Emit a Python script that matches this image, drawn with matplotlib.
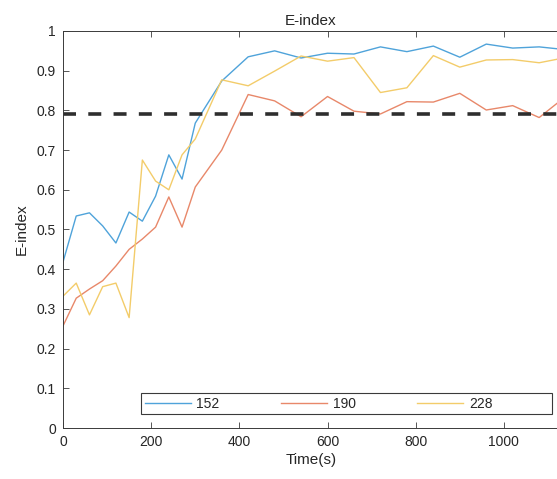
import matplotlib.pyplot as plt
from matplotlib.patches import Rectangle
import numpy as np

# data
time = [0, 30, 60, 90, 120, 150, 180, 210, 240, 270, 300, 360, 420, 480, 540,
        600, 660, 720, 780, 840, 900, 960, 1020, 1080, 1140]
e152 = [0.418, 0.534, 0.542, 0.509, 0.466, 0.544, 0.521, 0.584, 0.688, 0.627,
        0.768, 0.874, 0.935, 0.950, 0.932, 0.944, 0.942, 0.960, 0.948, 0.962,
        0.934, 0.967, 0.957, 0.960, 0.953]
e190 = [0.257, 0.327, 0.350, 0.371, 0.408, 0.450, 0.476, 0.506, 0.582, 0.506,
        0.607, 0.700, 0.840, 0.824, 0.784, 0.835, 0.798, 0.791, 0.822, 0.821,
        0.843, 0.801, 0.812, 0.782, 0.835]
e228 = [0.332, 0.365, 0.285, 0.356, 0.365, 0.278, 0.675, 0.622, 0.600, 0.688,
        0.728, 0.877, 0.862, 0.899, 0.937, 0.924, 0.933, 0.845, 0.857, 0.938,
        0.909, 0.927, 0.928, 0.920, 0.933]
threshold = 0.79
labels = ['152', '190', '228']

plt.rcParams['font.family'] = ['Liberation Sans', 'DejaVu Sans']
txt = '#262626'

fig = plt.figure(figsize=(5.57, 4.79), dpi=100)
ax = fig.add_axes([63/557, 51/479, 496/557, 397/479])

colors = ['#4fa3da', '#e8886a', '#f3cc6a']
ax.plot(time, e152, color=colors[0], lw=1.0, label=labels[0])
ax.plot(time, e190, color=colors[1], lw=1.0, label=labels[1])
ax.plot(time, e228, color=colors[2], lw=1.0, label=labels[2])
ax.axhline(threshold, color='#2e2e2e', lw=2.6, linestyle=(0, (3.6, 3.4)))

ax.set_xlim(0, 1125)
ax.set_ylim(0, 1)
ax.set_xticks([0, 200, 400, 600, 800, 1000])
yt = np.round(np.arange(0, 1.01, 0.1), 1)
ax.set_yticks(yt)
ax.set_yticklabels(['0' if v == 0 else ('1' if v == 1 else f'{v:g}') for v in yt])

for s in ['left', 'bottom', 'top']:
    ax.spines[s].set_color('#3a3a3a')
    ax.spines[s].set_linewidth(0.7)
ax.spines['right'].set_visible(False)
ax.tick_params(direction='in', length=4, width=0.6, color='#3a3a3a',
               labelcolor=txt, labelsize=10, top=True, pad=5)

ax.set_xlabel('Time(s)', fontsize=11, color=txt, labelpad=3)
ax.set_ylabel('E-index', fontsize=11, color=txt, labelpad=6)
ax.set_title('E-index', fontsize=11, color=txt, pad=4)

# legend box (MATLAB style, fixed-width entries)
box = Rectangle((0.157, 0.035), 0.829, 0.053, transform=ax.transAxes,
                facecolor='white', edgecolor='#3a3a3a', lw=0.8, zorder=4)
ax.add_patch(box)
leg = ax.legend(ncol=3, loc='center left', bbox_to_anchor=(0.165, 0.0617),
                frameon=False, handlelength=3.3, handletextpad=0.4,
                columnspacing=4.45, borderaxespad=0, borderpad=0, fontsize=10)
leg.set_zorder(5)
for t in leg.get_texts():
    t.set_color(txt)

fig.savefig('out.png', dpi=100)
